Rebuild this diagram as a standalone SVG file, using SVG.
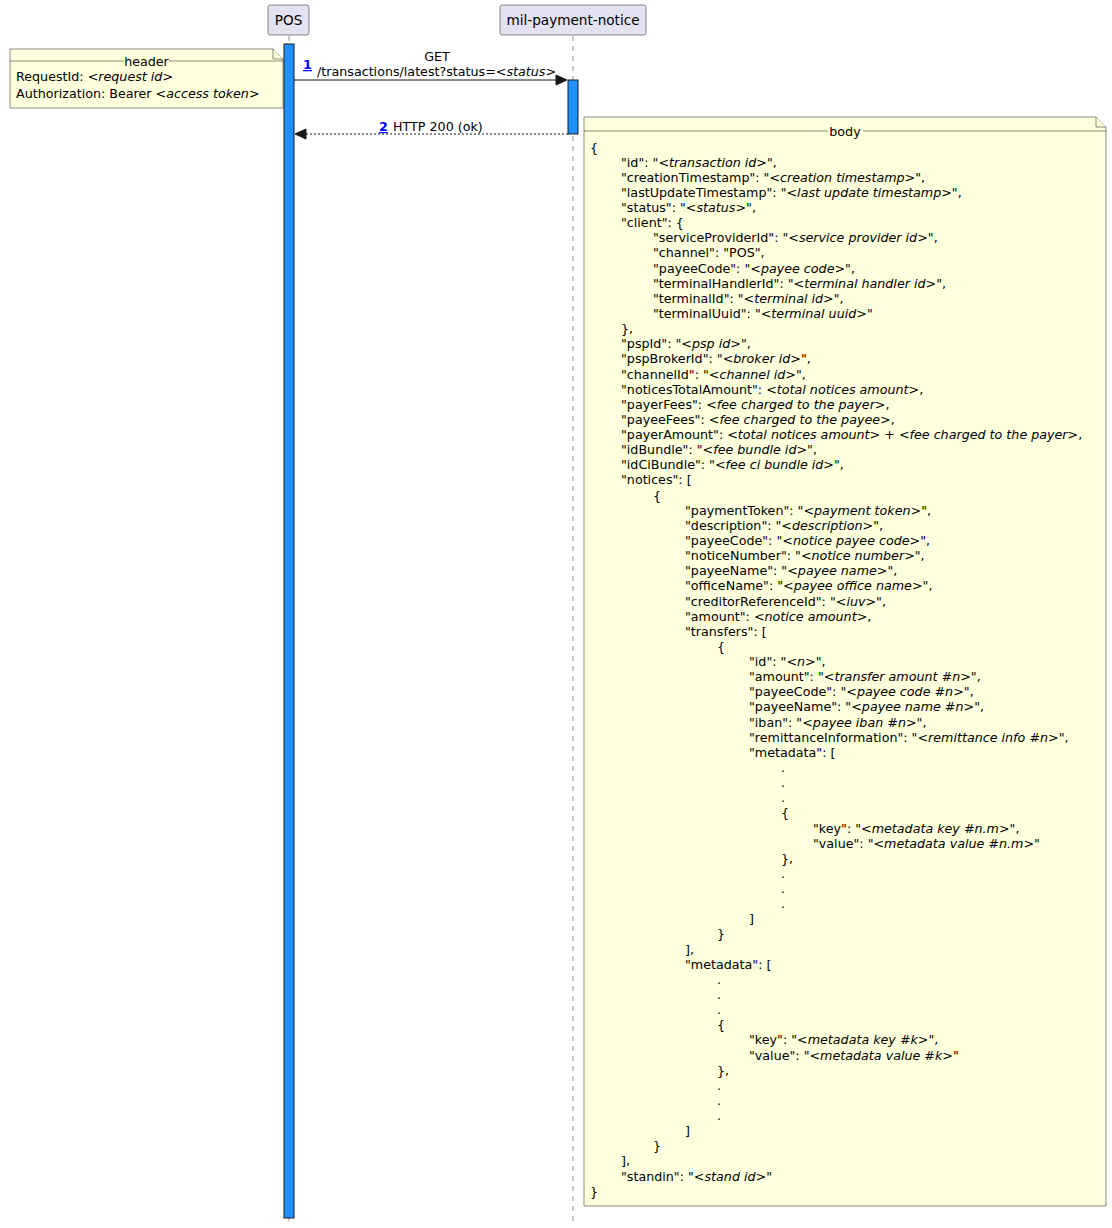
<svg xmlns="http://www.w3.org/2000/svg" width="1112" height="1228" viewBox="0 0 1112 1228">
  <style>
    .t { font-family: "DejaVu Sans", sans-serif; font-size: 12.7px; fill: #000000; }
    .p { font-family: "DejaVu Sans", sans-serif; font-size: 13.6px; fill: #000000; }
    .i { font-style: italic; }
    .num { font-weight: bold; fill: #0000FF; text-decoration: underline; }
    .life { stroke: #181818; stroke-width: 0.5; stroke-dasharray: 5 5; fill: none; }
    .box { fill: #E2E2F0; stroke: #181818; stroke-width: 0.5; }
    .act { fill: #1E90FF; stroke: #181818; stroke-width: 1; }
    .note { fill: #FEFFDD; stroke: #181818; stroke-width: 0.5; }
    .sep { stroke: #181818; stroke-width: 0.5; }
    .msg { stroke: #181818; stroke-width: 1; fill: none; }
    .head { fill: #181818; stroke: #181818; stroke-width: 1; }
  </style>
  <rect width="1112" height="1228" fill="#FFFFFF"/>

  <!-- lifelines -->
  <g id="lifelines">
    <line class="life" x1="289" y1="36" x2="289" y2="1222"/>
    <line class="life" x1="573" y1="36" x2="573" y2="1222"/>
  </g>

  <!-- participants -->
  <g id="pos">
    <rect class="box" x="268" y="5" width="41" height="30" rx="2.5"/>
    <text class="p" x="288.5" y="25" text-anchor="middle">POS</text>
    <rect class="act" x="284" y="44" width="10" height="1174"/>
  </g>
  <g id="mil-payment-notice">
    <rect class="box" x="500" y="5" width="146" height="30" rx="2.5"/>
    <text class="p" x="573" y="25" text-anchor="middle">mil-payment-notice</text>
    <rect class="act" x="568" y="80" width="10" height="54"/>
  </g>

  <!-- messages -->
  <g id="connectors">
    <g id="msg1">
      <line class="msg" x1="294" y1="80" x2="558" y2="80"/>
      <polygon class="head" points="556,75 567,80 556,85"/>
      <text class="t" x="437" y="61" text-anchor="middle">GET</text>
      <text class="t num" x="303" y="69">1</text>
      <text class="t" x="317" y="76">/transactions/latest?status=<tspan class="i">&lt;status&gt;</tspan></text>
    </g>
    <g id="msg2">
      <line class="msg" x1="568" y1="134" x2="304" y2="134" stroke-dasharray="2 2"/>
      <polygon class="head" points="306,129 295,134 306,139"/>
      <text class="t num" x="379" y="131">2</text>
      <text class="t" x="393" y="131">HTTP 200 (ok)</text>
    </g>
  </g>

  <!-- header note -->
  <g id="note-header">
    <path class="note" d="M10,49 L273,49 L283,59 L283,108 L10,108 Z"/>
    <path class="note" d="M273,49 L273,59 L283,59"/>
    <line class="sep" x1="10" y1="61" x2="124" y2="61"/>
    <line class="sep" x1="169" y1="61" x2="283" y2="61"/>
    <text class="t" x="146.5" y="65.5" text-anchor="middle">header</text>
    <text class="t" x="16" y="81">RequestId: <tspan class="i">&lt;request id&gt;</tspan></text>
    <text class="t" x="16" y="97.5">Authorization: Bearer <tspan class="i">&lt;access token&gt;</tspan></text>
  </g>

  <!-- body note -->
  <g id="note-body">
    <path class="note" d="M584,117 L1096,117 L1106,127 L1106,1206 L584,1206 Z"/>
    <path class="note" d="M1096,117 L1096,127 L1106,127"/>
    <line class="sep" x1="584" y1="131" x2="828" y2="131"/>
    <line class="sep" x1="863" y1="131" x2="1106" y2="131"/>
    <text class="t" x="845" y="135.5" text-anchor="middle">body</text>

    <text class="t" x="590" y="151.5">{</text>
    <text class="t" x="621" y="166.6">"id": "<tspan class="i">&lt;transaction id&gt;</tspan>",</text>
    <text class="t" x="621" y="181.8">"creationTimestamp": "<tspan class="i">&lt;creation timestamp&gt;</tspan>",</text>
    <text class="t" x="621" y="196.9">"lastUpdateTimestamp": "<tspan class="i">&lt;last update timestamp&gt;</tspan>",</text>
    <text class="t" x="621" y="212">"status": "<tspan class="i">&lt;status&gt;</tspan>",</text>
    <text class="t" x="621" y="227.2">"client": {</text>
    <text class="t" x="653" y="242.3">"serviceProviderId": "<tspan class="i">&lt;service provider id&gt;</tspan>",</text>
    <text class="t" x="653" y="257.4">"channel": "POS",</text>
    <text class="t" x="653" y="272.5">"payeeCode": "<tspan class="i">&lt;payee code&gt;</tspan>",</text>
    <text class="t" x="653" y="287.7">"terminalHandlerId": "<tspan class="i">&lt;terminal handler id&gt;</tspan>",</text>
    <text class="t" x="653" y="302.8">"terminalId": "<tspan class="i">&lt;terminal id&gt;</tspan>",</text>
    <text class="t" x="653" y="317.9">"terminalUuid": "<tspan class="i">&lt;terminal uuid&gt;</tspan>"</text>
    <text class="t" x="621" y="333.1">},</text>
    <text class="t" x="621" y="348.2">"pspId": "<tspan class="i">&lt;psp id&gt;</tspan>",</text>
    <text class="t" x="621" y="363.3">"pspBrokerId": "<tspan class="i">&lt;broker id&gt;</tspan>",</text>
    <text class="t" x="621" y="378.5">"channelId": "<tspan class="i">&lt;channel id&gt;</tspan>",</text>
    <text class="t" x="621" y="393.6">"noticesTotalAmount": <tspan class="i">&lt;total notices amount&gt;</tspan>,</text>
    <text class="t" x="621" y="408.7">"payerFees": <tspan class="i">&lt;fee charged to the payer&gt;</tspan>,</text>
    <text class="t" x="621" y="423.9">"payeeFees": <tspan class="i">&lt;fee charged to the payee&gt;</tspan>,</text>
    <text class="t" x="621" y="439">"payerAmount": <tspan class="i">&lt;total notices amount&gt;</tspan> + <tspan class="i">&lt;fee charged to the payer&gt;</tspan>,</text>
    <text class="t" x="621" y="454.1">"idBundle": "<tspan class="i">&lt;fee bundle id&gt;</tspan>",</text>
    <text class="t" x="621" y="469.3">"idCiBundle": "<tspan class="i">&lt;fee ci bundle id&gt;</tspan>",</text>
    <text class="t" x="621" y="484.4">"notices": [</text>
    <text class="t" x="653" y="499.5">{</text>
    <text class="t" x="685" y="514.7">"paymentToken": "<tspan class="i">&lt;payment token&gt;</tspan>",</text>
    <text class="t" x="685" y="529.8">"description": "<tspan class="i">&lt;description&gt;</tspan>",</text>
    <text class="t" x="685" y="544.9">"payeeCode": "<tspan class="i">&lt;notice payee code&gt;</tspan>",</text>
    <text class="t" x="685" y="560.1">"noticeNumber": "<tspan class="i">&lt;notice number&gt;</tspan>",</text>
    <text class="t" x="685" y="575.2">"payeeName": "<tspan class="i">&lt;payee name&gt;</tspan>",</text>
    <text class="t" x="685" y="590.3">"officeName": "<tspan class="i">&lt;payee office name&gt;</tspan>",</text>
    <text class="t" x="685" y="605.5">"creditorReferenceId": "<tspan class="i">&lt;iuv&gt;</tspan>",</text>
    <text class="t" x="685" y="620.6">"amount": <tspan class="i">&lt;notice amount&gt;</tspan>,</text>
    <text class="t" x="685" y="635.7">"transfers": [</text>
    <text class="t" x="717" y="650.9">{</text>
    <text class="t" x="749" y="666">"id": "<tspan class="i">&lt;n&gt;</tspan>",</text>
    <text class="t" x="749" y="681.1">"amount": "<tspan class="i">&lt;transfer amount #n&gt;</tspan>",</text>
    <text class="t" x="749" y="696.3">"payeeCode": "<tspan class="i">&lt;payee code #n&gt;</tspan>",</text>
    <text class="t" x="749" y="711.4">"payeeName": "<tspan class="i">&lt;payee name #n&gt;</tspan>",</text>
    <text class="t" x="749" y="726.5">"iban": "<tspan class="i">&lt;payee iban #n&gt;</tspan>",</text>
    <text class="t" x="749" y="741.7">"remittanceInformation": "<tspan class="i">&lt;remittance info #n&gt;</tspan>",</text>
    <text class="t" x="749" y="756.8">"metadata": [</text>
    <text class="t" x="781" y="771.9">.</text>
    <text class="t" x="781" y="787.1">.</text>
    <text class="t" x="781" y="802.2">.</text>
    <text class="t" x="781" y="817.3">{</text>
    <text class="t" x="813" y="832.5">"key": "<tspan class="i">&lt;metadata key #n.m&gt;</tspan>",</text>
    <text class="t" x="813" y="847.6">"value": "<tspan class="i">&lt;metadata value #n.m&gt;</tspan>"</text>
    <text class="t" x="781" y="862.7">},</text>
    <text class="t" x="781" y="877.9">.</text>
    <text class="t" x="781" y="893">.</text>
    <text class="t" x="781" y="908.1">.</text>
    <text class="t" x="749" y="923.3">]</text>
    <text class="t" x="717" y="938.4">}</text>
    <text class="t" x="685" y="953.5">],</text>
    <text class="t" x="685" y="968.7">"metadata": [</text>
    <text class="t" x="717" y="983.8">.</text>
    <text class="t" x="717" y="998.9">.</text>
    <text class="t" x="717" y="1014.1">.</text>
    <text class="t" x="717" y="1029.2">{</text>
    <text class="t" x="749" y="1044.3">"key": "<tspan class="i">&lt;metadata key #k&gt;</tspan>",</text>
    <text class="t" x="749" y="1059.5">"value": "<tspan class="i">&lt;metadata value #k&gt;</tspan>"</text>
    <text class="t" x="717" y="1074.6">},</text>
    <text class="t" x="717" y="1089.7">.</text>
    <text class="t" x="717" y="1104.9">.</text>
    <text class="t" x="717" y="1120">.</text>
    <text class="t" x="685" y="1135.1">]</text>
    <text class="t" x="653" y="1150.3">}</text>
    <text class="t" x="621" y="1165.4">],</text>
    <text class="t" x="621" y="1180.5">"standin": "<tspan class="i">&lt;stand id&gt;</tspan>"</text>
    <text class="t" x="590" y="1195.7">}</text>
  </g>
</svg>
